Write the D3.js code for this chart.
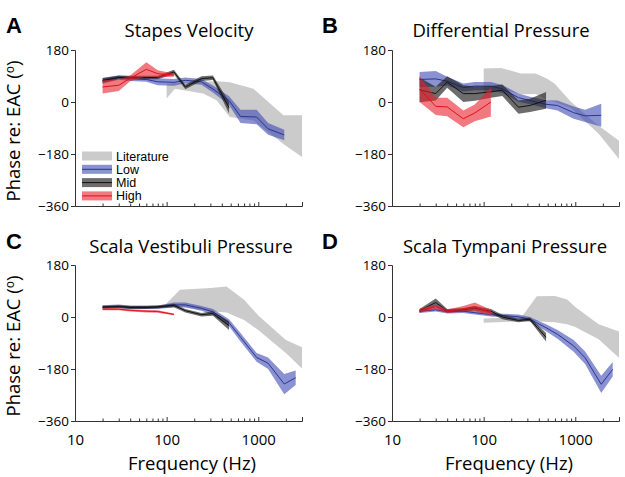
<!DOCTYPE html>
<html><head><meta charset="utf-8">
<script src="https://cdn.jsdelivr.net/npm/d3@7"></script>
<style>
body{margin:0;background:#fff}
svg{display:block}
text{font-family:"Open Sans",sans-serif;fill:#000}
</style>
</head><body>
<svg id="chart" width="625" height="477"></svg>
<script>
// ---------- data ----------
const freqs = [20,30,40,60,80,120,160,240,320,480,640,960,1280,1920,2560];
const xMajorTicks = [10,100,1000];
const xMinorTicks = [20,30,40,50,60,70,80,90,200,300,400,500,600,700,800,900,2000,3000];
const yTicks = [180,0,-180,-360];
const seriesNames = ["Literature","Low","Mid","High"];
const panelLetters = ["A","B","C","D"];
const panelTitles = ["Stapes Velocity","Differential Pressure","Scala Vestibuli Pressure","Scala Tympani Pressure"];

// Panel A: Stapes Velocity
const aLowMean  = [73,85,81,78,70,68,75,70,45,5,-50,-52,-93,-114];
const aLowHw    = [10,8,8,8,12,12,10,10,12,15,23,25,20,18];
const aMidMean  = [75,85,85,85,85,104,52,81,84,-20];
const aMidHw    = [8,6,6,6,6,8,8,8,8,20];
const aHighMean = [52,58,82,113,98,93];
const aHighHw   = [23,20,10,25,12,6];
const aLitFreq  = [100,123,250,350,490,885,1880,3000];
const aLitTop   = [62,66,70,72,68,46,-46,-46];
const aLitBot   = [12,46,29,6,-52,-64,-145,-190];

// Panel B: Differential Pressure
const bLowMean  = [78,80,72,50,55,55,45,15,5,-8,-12,-37,-48,-46];
const bLowHw    = [26,27,15,14,14,14,14,14,13,14,17,21,21,40];
const bMidMean  = [42,29,69,29,29,35,41,-18,-12,6];
const bMidHw    = [43,24,20,29,25,20,20,23,23,29];
const bHighMean = [45,-15,-17,-58,-38,0];
const bHighHw   = [45,30,32,29,29,50];
const bLitFreq  = [100,155,255,370,500,600,900,1800,3000];
const bLitTop   = [116,118,99,99,80,62,0,-82,-134];
const bLitBot   = [29,46,27,28,6,0,-22,-110,-197];

// Panel C: Scala Vestibuli Pressure
const cLowMean  = [35,37,34,34,34,42,42,30,18,-20,-70,-140,-160,-232,-210];
const cLowHw    = [6,6,6,6,6,8,8,8,10,12,15,15,20,35,25];
const cMidMean  = [34,36,33,33,35,40,22,8,12,-30];
const cMidHw    = [5,5,5,5,5,6,6,6,8,15];
const cHighMean = [27,27,23,20,19,9];
const cHighHw   = [4,4,4,4,4,3];
const cLitFreq  = [100,140,300,450,700,1000,2000,3000];
const cLitTop   = [48,94,100,106,60,5,-80,-105];
const cLitBot   = [40,35,20,16,-10,-45,-125,-178];

// Panel D: Scala Tympani Pressure
const dLowMean  = [20,25,18,20,15,8,5,1,-8,-37,-60,-100,-141,-233,-181];
const dLowHw    = [6,6,6,6,6,6,6,8,8,12,15,20,22,30,25];
const dMidMean  = [22,50,22,25,30,20,0,-12,-8,-70];
const dMidHw    = [6,14,6,6,8,8,8,6,6,15];
const dHighMean = [22,35,20,28,35,15];
const dHighHw   = [7,8,6,10,15,10];
const dLitFreq  = [100,260,380,600,815,1000,1800,3000];
const dLitTop   = [-5,0,72,73,61,35,-25,-50];
const dLitBot   = [-20,-15,-15,-18,-25,-35,-77,-141];

// ---------- styles ----------
const litFill = "#cbcbcb";
const styles = {
  Low:  {fill:"#3c4ab4", op:0.6, line:"#2a3590"},
  Mid:  {fill:"#1e1e1e", op:0.65, line:"#111111"},
  High: {fill:"#e8202a", op:0.6, line:"#e0101a"}
};

const panels = [
  {left:75,  top:50,  xl:false, yl:true,  legend:true,
   lit:[aLitFreq,aLitTop,aLitBot], low:[aLowMean,aLowHw], mid:[aMidMean,aMidHw], high:[aHighMean,aHighHw],
   titleX:189, titleY:37, letterX:6, letterY:33},
  {left:392, top:50,  xl:false, yl:false, legend:false,
   lit:[bLitFreq,bLitTop,bLitBot], low:[bLowMean,bLowHw], mid:[bMidMean,bMidHw], high:[bHighMean,bHighHw],
   titleX:501, titleY:37, letterX:322, letterY:33},
  {left:75,  top:265, xl:true,  yl:true,  legend:false,
   lit:[cLitFreq,cLitTop,cLitBot], low:[cLowMean,cLowHw], mid:[cMidMean,cMidHw], high:[cHighMean,cHighHw],
   titleX:191, titleY:253, letterX:6, letterY:249},
  {left:392, top:265, xl:true,  yl:false, legend:false,
   lit:[dLitFreq,dLitTop,dLitBot], low:[dLowMean,dLowHw], mid:[dMidMean,dMidHw], high:[dHighMean,dHighHw],
   titleX:505, titleY:253, letterX:322, letterY:249}
];

const W = 227, H = 156;
const svg = d3.select("#chart");

panels.forEach((p, i) => {
  const g = svg.append("g");
  const x = d3.scaleLog().domain([10,3000]).range([p.left, p.left + W]);
  const y = d3.scaleLinear().domain([-360,180]).range([p.top + H, p.top]);

  // literature band
  const litData = p.lit[0].map((f,k) => ({f, hi:p.lit[1][k], lo:p.lit[2][k]}));
  g.append("path").datum(litData)
    .attr("d", d3.area().x(d=>x(d.f)).y0(d=>y(d.lo)).y1(d=>y(d.hi)))
    .attr("fill", litFill);

  [["Low",p.low],["Mid",p.mid],["High",p.high]].forEach(([name, s]) => {
    const st = styles[name];
    const data = s[0].map((m,k) => ({f:freqs[k], m, hw:s[1][k]}));
    g.append("path").datum(data)
      .attr("d", d3.area().x(d=>x(d.f)).y0(d=>y(d.m - d.hw)).y1(d=>y(d.m + d.hw)))
      .attr("fill", st.fill).attr("fill-opacity", st.op);
    g.append("path").datum(data)
      .attr("d", d3.line().x(d=>x(d.f)).y(d=>y(d.m)))
      .attr("fill","none").attr("stroke", st.line).attr("stroke-width",1);
  });

  // y axis
  const yAxis = d3.axisLeft(y).tickValues(yTicks).tickSize(4).tickPadding(2).tickFormat(d3.format("d"));
  const ya = g.append("g").attr("transform",`translate(${p.left},0)`).call(yAxis);
  ya.select(".domain").attr("stroke","#333");
  ya.selectAll(".tick line").attr("stroke","#333");
  ya.selectAll("text").style("font-size","13.5px").style("font-family",'"Open Sans",sans-serif').attr("fill","#000");

  // x axis (ticks inward)
  const base = p.top + H;
  const xa = g.append("g").attr("transform",`translate(0,${base})`)
    .call(d3.axisBottom(x).tickValues(xMajorTicks).tickSize(-4).tickPadding(13)
      .tickFormat(p.xl ? d3.format("d") : () => ""));
  xa.select(".domain").attr("stroke","#333");
  xa.selectAll(".tick line").attr("stroke","#333");
  xa.selectAll("text").style("font-size","15px").style("font-family",'"Open Sans",sans-serif').attr("fill","#000");
  g.append("g").attr("transform",`translate(0,${base})`)
    .call(d3.axisBottom(x).tickValues(xMinorTicks).tickSize(-2.5).tickFormat(() => ""))
    .call(s => s.select(".domain").remove())
    .selectAll(".tick line").attr("stroke","#333");

  // titles and letters
  svg.append("text").attr("x", p.titleX).attr("y", p.titleY).attr("text-anchor","middle")
    .style("font-size","18.5px").text(panelTitles[i]);
  svg.append("text").attr("x", p.letterX).attr("y", p.letterY)
    .style("font-family","Arial, 'Liberation Sans', sans-serif").style("font-weight","bold").style("font-size","22px")
    .text(panelLetters[i]);

  if (p.xl) {
    svg.append("text").attr("x", p.left + 117).attr("y", 470).attr("text-anchor","middle")
      .style("font-size","18.5px").text("Frequency (Hz)");
  }
  if (p.yl) {
    const cy = p.top + 81;
    const t = svg.append("text").attr("transform",`translate(20,${cy}) rotate(-90)`)
      .attr("text-anchor","middle").style("font-size","18.5px");
    t.append("tspan").text("Phase re: EAC (");
    t.append("tspan").attr("dy",-6).style("font-size","12px").text("o");
    t.append("tspan").attr("dy",6).text(")");
  }

  if (p.legend) {
    const lg = svg.append("g");
    seriesNames.forEach((n, k) => {
      const ry = 151.5 + k * 13.3;
      if (n === "Literature") {
        lg.append("rect").attr("x",82).attr("y",ry).attr("width",30).attr("height",9).attr("fill",litFill);
      } else {
        const st = styles[n];
        lg.append("rect").attr("x",82).attr("y",ry).attr("width",30).attr("height",9)
          .attr("fill",st.fill).attr("fill-opacity",st.op);
        lg.append("line").attr("x1",82).attr("x2",112).attr("y1",ry+4.5).attr("y2",ry+4.5)
          .attr("stroke",st.line).attr("stroke-width",1);
      }
      lg.append("text").attr("x",116).attr("y",ry+9)
        .style("font-family","'Liberation Sans', Arial, sans-serif").style("font-size","12.5px").text(n);
    });
  }
});
</script>
</body></html>
